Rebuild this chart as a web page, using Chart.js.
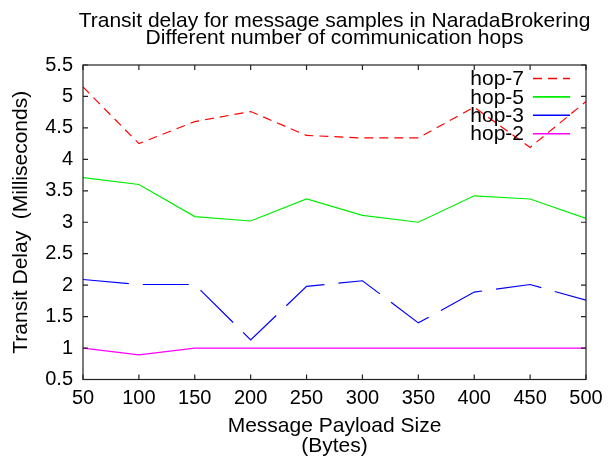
<!DOCTYPE html>
<html>
<head>
<meta charset="utf-8">
<script src="https://cdn.jsdelivr.net/npm/chart.js@4.4.1/dist/chart.umd.min.js"></script>
<style>
  html, body { margin: 0; padding: 0; background: #fff; }
</style>
</head>
<body>
<canvas id="delayChart" width="613" height="457"></canvas>
<script>
// payload sizes (bytes) and transit delays (ms)
const payloadSizes = [50, 100, 150, 200, 250, 300, 350, 400, 450, 500];
const hop7 = [5.15, 4.25, 4.60, 4.76, 4.38, 4.34, 4.34, 4.83, 4.19, 4.92];
const hop5 = [3.71, 3.60, 3.09, 3.02, 3.37, 3.11, 3.00, 3.42, 3.37, 3.06];
const hop3 = [2.09, 2.01, 2.01, 1.13, 1.98, 2.07, 1.40, 1.89, 2.01, 1.76];
const hop2 = [1.00, 0.89, 1.00, 1.00, 1.00, 1.00, 1.00, 1.00, 1.00, 1.00];
const yTicks = [0.5, 1, 1.5, 2, 2.5, 3, 3.5, 4, 4.5, 5, 5.5];
const titleLines = ['Transit delay for message samples in NaradaBrokering', 'Different number of communication hops'];

const FONT = "'Liberation Sans', Arial, sans-serif";

function series(values) {
  return values.map((v, i) => ({ x: payloadSizes[i], y: v }));
}

const datasets = [
  { label: 'hop-7', data: series(hop7), borderColor: '#ff0000', borderDash: [9, 6] },
  { label: 'hop-5', data: series(hop5), borderColor: '#00ee00', borderDash: [] },
  { label: 'hop-3', data: series(hop3), borderColor: '#0000ff', borderDash: [46, 14] },
  { label: 'hop-2', data: series(hop2), borderColor: '#ff00ff', borderDash: [] }
].map(d => ({ ...d, borderWidth: 1.2, pointRadius: 0, tension: 0, fill: false }));

// gnuplot-ish frame: full box with inward ticks on every side
const framePlugin = {
  id: 'frame',
  afterDatasetsDraw(chart) {
    const { ctx, chartArea: a, scales } = chart;
    ctx.save();
    ctx.strokeStyle = '#222';
    ctx.lineWidth = 1.2;
    ctx.strokeRect(a.left, a.top, a.right - a.left, a.bottom - a.top);
    ctx.beginPath();
    scales.x.ticks.forEach(t => {
      const px = scales.x.getPixelForValue(t.value);
      ctx.moveTo(px, a.bottom); ctx.lineTo(px, a.bottom - 5);
      ctx.moveTo(px, a.top); ctx.lineTo(px, a.top + 5);
    });
    scales.y.ticks.forEach(t => {
      const py = scales.y.getPixelForValue(t.value);
      ctx.moveTo(a.left, py); ctx.lineTo(a.left + 5, py);
      ctx.moveTo(a.right, py); ctx.lineTo(a.right - 5, py);
    });
    ctx.stroke();
    ctx.restore();
  }
};

// legend inside top right, text right-aligned then the line sample
const keyPlugin = {
  id: 'key',
  afterDraw(chart) {
    const { ctx } = chart;
    ctx.save();
    ctx.font = '21px ' + FONT;
    ctx.textAlign = 'right';
    ctx.textBaseline = 'middle';
    chart.data.datasets.forEach((ds, i) => {
      const y = 78.5 + i * 18.4;
      ctx.fillStyle = '#000';
      ctx.fillText(ds.label, 524, y + 1);
      ctx.strokeStyle = ds.borderColor;
      ctx.lineWidth = 1.6;
      ctx.setLineDash(ds.borderDash);
      ctx.beginPath();
      ctx.moveTo(533, y); ctx.lineTo(570, y);
      ctx.stroke();
    });
    ctx.restore();
  }
};

const titlePlugin = {
  id: 'twoLineTitle',
  afterDraw(chart) {
    const { ctx, chartArea: a } = chart;
    ctx.save();
    ctx.font = '21px ' + FONT;
    ctx.fillStyle = '#000';
    ctx.textAlign = 'center';
    ctx.textBaseline = 'alphabetic';
    const cx = (a.left + a.right) / 2;
    titleLines.forEach((line, i) => ctx.fillText(line, cx, 27 + i * 17));
    ctx.restore();
  }
};

new Chart(document.getElementById('delayChart'), {
  type: 'line',
  data: { datasets },
  options: {
    responsive: false,
    animation: false,
    devicePixelRatio: 1,
    layout: { padding: { top: 65, right: 27, left: 0, bottom: 0 } },
    plugins: {
      legend: { display: false },
      title: { display: false },
      tooltip: { enabled: false }
    },
    scales: {
      x: {
        type: 'linear',
        min: 50,
        max: 500,
        afterBuildTicks: s => { s.ticks = payloadSizes.map(v => ({ value: v })); },
        afterFit: s => { s.height = 77.5; },
        grid: { display: false, drawTicks: false },
        border: { display: false },
        ticks: { color: '#000', padding: 7, maxRotation: 0, autoSkip: false, font: { family: FONT, size: 20 } },
        title: {
          display: true,
          text: ['Message Payload Size', '(Bytes)'],
          color: '#000',
          font: { family: FONT, size: 21, lineHeight: '20px' },
          padding: { top: 0, bottom: 1 }
        }
      },
      y: {
        min: 0.5,
        max: 5.5,
        afterBuildTicks: s => { s.ticks = yTicks.map(v => ({ value: v })); },
        afterFit: s => { s.width = 83; },
        grid: { display: false, drawTicks: false },
        border: { display: false },
        ticks: {
          color: '#000', padding: 10, autoSkip: false,
          font: { family: FONT, size: 20 },
          callback: v => String(v)
        },
        title: {
          display: true,
          text: 'Transit Delay  (Milliseconds)',
          color: '#000',
          font: { family: FONT, size: 21 },
          padding: { top: 9, bottom: 0 }
        }
      }
    }
  },
  plugins: [framePlugin, keyPlugin, titlePlugin]
});
</script>
</body>
</html>
